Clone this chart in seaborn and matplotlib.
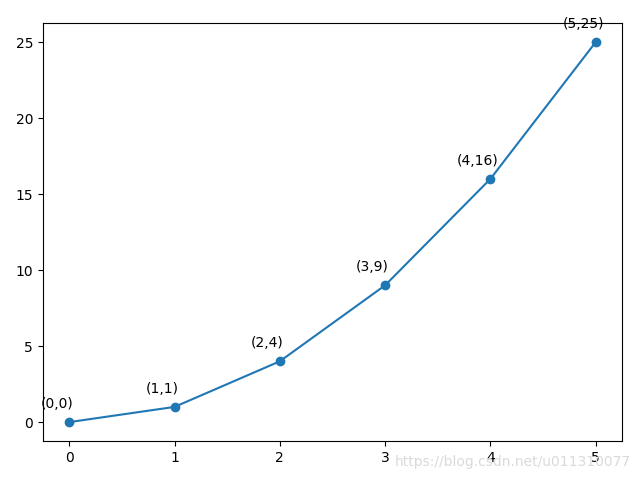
import matplotlib
matplotlib.use("Agg")
import matplotlib.pyplot as plt
import seaborn as sns
import pandas as pd

# squares of 0..5
x_vals = [0, 1, 2, 3, 4, 5]
y_vals = [0, 1, 4, 9, 16, 25]

df = pd.DataFrame({"x": x_vals, "y": y_vals})

fig, ax = plt.subplots(figsize=(6.4, 4.8), dpi=100)
sns.lineplot(data=df, x="x", y="y", ax=ax, marker="o", color="#1f77b4",
             markersize=6, markeredgecolor="#1f77b4", markeredgewidth=1)

# label every point with its coordinates, a bit up and to the left
for x, y in zip(x_vals, y_vals):
    ax.annotate(f"({x},{y})", xy=(x, y), xytext=(-9, 10),
                textcoords="offset points", ha="center", fontsize=10)

ax.set_xlabel("")
ax.set_ylabel("")

# faint site watermark in the lower right corner
fig.text(0.986, 0.037, "https://blog.csdn.net/u011310077", ha="right",
         va="center", color="#dadada", fontsize=10)

fig.subplots_adjust(left=0.067, right=0.972, top=0.952, bottom=0.081)
fig.savefig("out.png", dpi=100)
